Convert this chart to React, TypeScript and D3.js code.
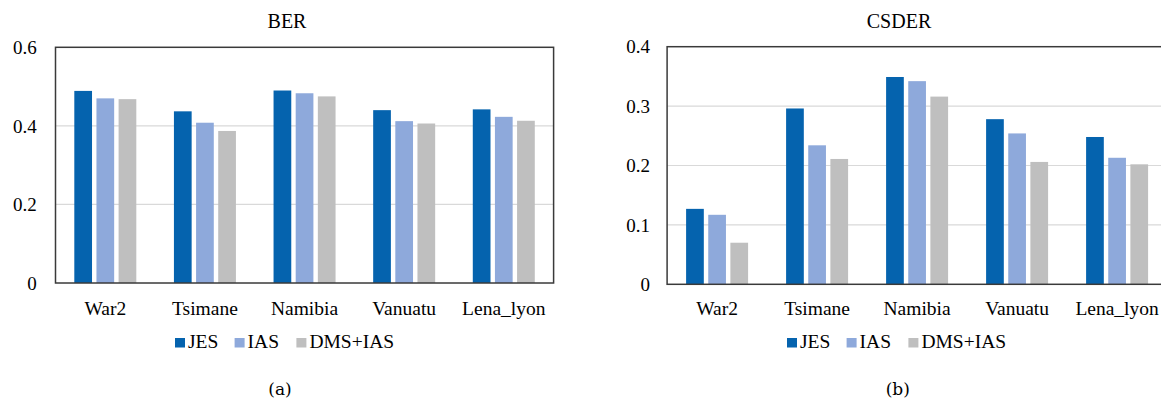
import React from "react";
import * as d3 from "d3";

const categories = ["War2", "Tsimane", "Namibia", "Vanuatu", "Lena_lyon"];
const seriesNames = ["JES", "IAS", "DMS+IAS"];
const berJES = [0.489, 0.437, 0.490, 0.440, 0.442];
const berIAS = [0.470, 0.408, 0.483, 0.412, 0.423];
const berDMS = [0.468, 0.387, 0.475, 0.406, 0.413];
const csderJES = [0.127, 0.296, 0.349, 0.278, 0.248];
const csderIAS = [0.117, 0.234, 0.342, 0.254, 0.213];
const csderDMS = [0.070, 0.211, 0.316, 0.206, 0.202];
const berTicks = [0, 0.2, 0.4, 0.6];
const csderTicks = [0, 0.1, 0.2, 0.3, 0.4];
const colors = ["#0563AE", "#8EA9DB", "#BFBFBF"];

const FONT = '"Liberation Serif", "Times New Roman", Tinos, "DejaVu Serif", serif';
const LABEL_FONT = '"DejaVu Serif", "Liberation Serif", serif';

type PanelProps = {
  title: string;
  label: string;
  series: number[][];
  ticks: number[];
  yMax: number;
  x0: number;
  x1: number;
  yTop: number;
  yBottom: number;
  frameRight: number;
  tickLabelRight: number;
  center: number;
  labelCenter: number;
};

function Panel(p: PanelProps) {
  const x = d3.scaleBand<string>().domain(categories).range([p.x0, p.x1]).paddingInner(0).paddingOuter(0);
  const y = d3.scaleLinear().domain([0, p.yMax]).range([p.yBottom, p.yTop]);
  const inner = d3.scaleBand<string>().domain(seriesNames).range([-31, 31]).paddingInner(0.2).paddingOuter(0);
  const legendOffsets = [-112, -52.4, 9.4];
  const tf = { fontFamily: FONT };
  return (
    <g>
      <text x={p.center} y={28} textAnchor="middle" style={{ ...tf, fontSize: 20 }} fill="#000">{p.title}</text>
      {p.ticks.map((t) => (
        <g key={t}>
          {t > 0 && t < p.yMax && (
            <line x1={p.x0} x2={p.frameRight} y1={y(t)} y2={y(t)} stroke="#d9d9d9" strokeWidth={1.2} />
          )}
          <text x={p.tickLabelRight} y={y(t) + 6.7} textAnchor="end" style={{ ...tf, fontSize: 19 }} fill="#000">
            {d3.format("~g")(t)}
          </text>
        </g>
      ))}
      {categories.map((c, i) => (
        <g key={c}>
          {seriesNames.map((s, j) => {
            const cx = (x(c) as number) + x.bandwidth() / 2;
            const v = p.series[j][i];
            return (
              <rect
                key={s}
                x={cx + (inner(s) as number)}
                y={y(v)}
                width={inner.bandwidth()}
                height={p.yBottom - y(v)}
                fill={colors[j]}
              />
            );
          })}
          <text x={(x(c) as number) + x.bandwidth() / 2} y={315} textAnchor="middle" style={{ ...tf, fontSize: 19.5 }} fill="#000">
            {c}
          </text>
        </g>
      ))}
      <rect x={p.x0} y={p.yTop} width={p.frameRight - p.x0} height={p.yBottom - p.yTop} fill="none" stroke="#3a3a3a" strokeWidth={1.5} />
      {seriesNames.map((s, j) => (
        <g key={s}>
          <rect x={p.center + legendOffsets[j]} y={338} width={10} height={9.5} fill={colors[j]} />
          <text x={p.center + legendOffsets[j] + 13} y={348.3} style={{ ...tf, fontSize: 19.5 }} fill="#000">{s}</text>
        </g>
      ))}
      <text x={p.labelCenter} y={395} textAnchor="middle" style={{ fontFamily: LABEL_FONT, fontSize: 17 }} fill="#000">{p.label}</text>
    </g>
  );
}

export default function App() {
  return (
    <svg width={1161} height={402} style={{ position: "absolute", left: 0, top: 0, background: "#fff" }}>
      <rect x={0} y={0} width={1161} height={402} fill="#fff" />
      <Panel
        title="BER"
        label="(a)"
        series={[berJES, berIAS, berDMS]}
        ticks={berTicks}
        yMax={0.6}
        x0={55.5}
        x1={553.6}
        yTop={47.3}
        yBottom={283}
        frameRight={553.6}
        tickLabelRight={36.7}
        center={287}
        labelCenter={280}
      />
      <Panel
        title="CSDER"
        label="(b)"
        series={[csderJES, csderIAS, csderDMS]}
        ticks={csderTicks}
        yMax={0.4}
        x0={667.1}
        x1={1167.1}
        yTop={46.7}
        yBottom={284.3}
        frameRight={1167.1}
        tickLabelRight={650}
        center={899}
        labelCenter={897.8}
      />
    </svg>
  );
}
